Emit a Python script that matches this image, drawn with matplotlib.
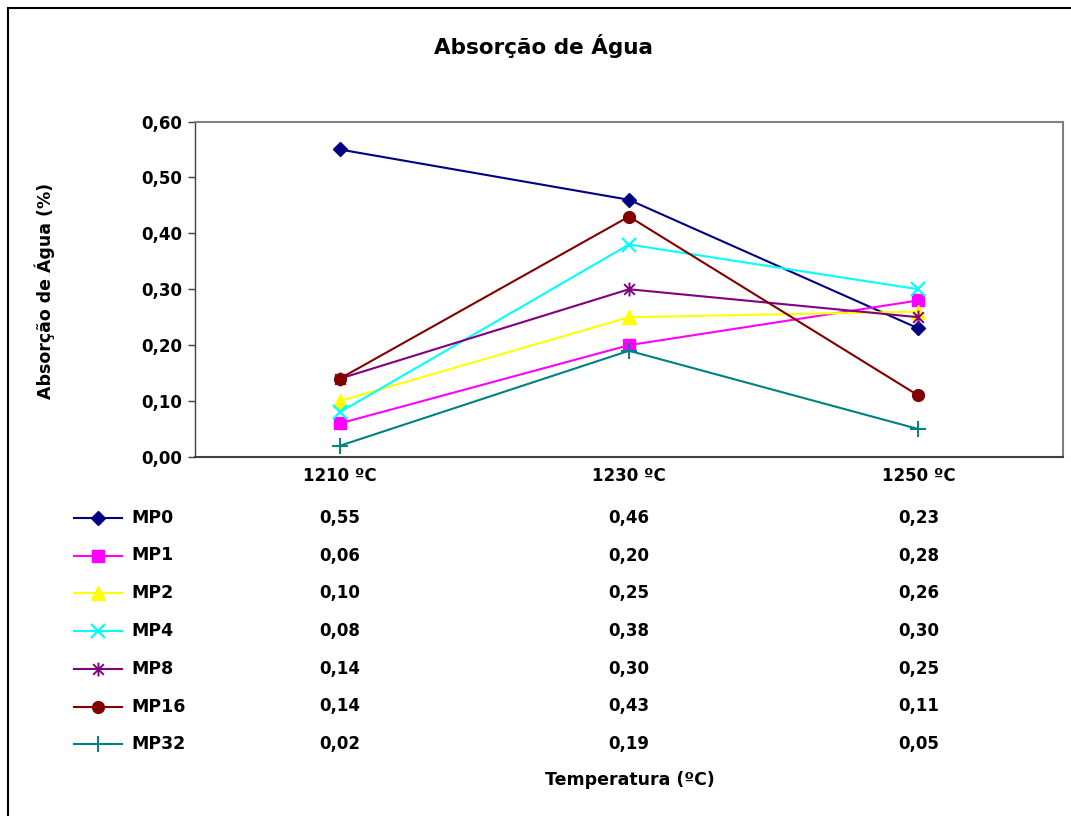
import numpy as np
import matplotlib.pyplot as plt
from matplotlib.path import Path
from matplotlib.patches import Rectangle
from matplotlib.ticker import FuncFormatter
from matplotlib.transforms import blended_transform_factory

plt.rcParams['font.family'] = ['DejaVu Sans']
plt.rcParams['font.weight'] = 'bold'

temperatures = ['1210 ºC', '1230 ºC', '1250 ºC']
series_names = ['MP0', 'MP1', 'MP2', 'MP4', 'MP8', 'MP16', 'MP32']
mp0 = [0.55, 0.46, 0.23]
mp1 = [0.06, 0.20, 0.28]
mp2 = [0.10, 0.25, 0.26]
mp4 = [0.08, 0.38, 0.30]
mp8 = [0.14, 0.30, 0.25]
mp16 = [0.14, 0.43, 0.11]
mp32 = [0.02, 0.19, 0.05]
series_values = [mp0, mp1, mp2, mp4, mp8, mp16, mp32]

# excel-style star: an x with a vertical bar through it
star = Path([(-1, -1), (1, 1), (-1, 1), (1, -1), (0, -1.3), (0, 1.3)],
            [Path.MOVETO, Path.LINETO, Path.MOVETO, Path.LINETO, Path.MOVETO, Path.LINETO])

styles = [
    dict(color='#000080', marker='D', ms=7.5),
    dict(color='#FF00FF', marker='s', ms=8),
    dict(color='#FFFF00', marker='^', ms=9.5),
    dict(color='#00FFFF', marker='x', ms=10, mew=1.6),
    dict(color='#800080', marker=star, ms=10, mew=1.4),
    dict(color='#800000', marker='o', ms=8.5),
    dict(color='#008080', marker='+', ms=12, mew=1.4),
]

W, H = 1071, 816
fig = plt.figure(figsize=(W / 100, H / 100), dpi=100)

def fx(px):
    return px / W

def fy(py):
    return 1 - py / H

def comma(v):
    return f'{v:.2f}'.replace('.', ',')

ax = fig.add_axes([fx(195), fy(457), fx(1063) - fx(195), fy(121.5) - fy(457)])
x = np.arange(len(temperatures))
for name, vals, st in zip(series_names, series_values, styles):
    ax.plot(x, vals, lw=1.5, clip_on=False, **st)

ax.set_xlim(-0.5, 2.5)
ax.set_ylim(0, 0.6)
ax.set_yticks(np.arange(0, 0.61, 0.1))
ax.yaxis.set_major_formatter(FuncFormatter(lambda v, p: comma(v)))
ax.tick_params(axis='y', direction='out', length=5, width=1, color='#404040',
               labelsize=12, pad=4)
ax.set_xticks([])
for s in ax.spines.values():
    s.set_color('#808080')
    s.set_linewidth(1.5)
ax.spines['left'].set_color('#404040')
ax.spines['left'].set_linewidth(1)
ax.spines['bottom'].set_color('#404040')

# data table beneath the plot
tr = blended_transform_factory(ax.transData, fig.transFigure)
for i, t in enumerate(temperatures):
    ax.text(i, fy(476), t, transform=tr, ha='center', va='center', fontsize=12)

row_y = [518, 555.5, 593, 631, 669, 706.5, 744]
for name, vals, st, ry in zip(series_names, series_values, styles, row_y):
    y = fy(ry)
    ax.plot([fx(74), fx(98), fx(122)], [y, y, y], transform=fig.transFigure,
            markevery=[1], lw=1.5, clip_on=False, **st)
    fig.text(fx(131), y, name, ha='left', va='center', fontsize=12.5)
    for i, v in enumerate(vals):
        ax.text(i, y, comma(v), transform=tr, ha='center', va='center', fontsize=12)

fig.text(fx(630), fy(780), 'Temperatura (ºC)', ha='center', va='center', fontsize=12.5)
fig.text(fx(45), fy(291), 'Absorção de Água (%)', ha='center', va='center',
         rotation=90, fontsize=12.5)
fig.text(fx(543), fy(46), 'Absorção de Água', ha='center', va='center', fontsize=15.5)

# chart frame
fig.add_artist(Rectangle((fx(8), -0.1), 1.2, fy(8) + 0.1, transform=fig.transFigure,
                         fill=False, edgecolor='black', lw=1.5))

fig.savefig('out.png', dpi=100)
